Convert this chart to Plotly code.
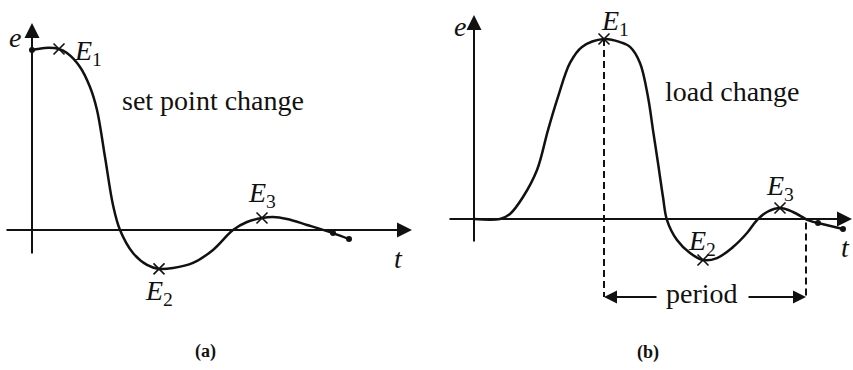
import plotly.graph_objects as go

# ---- panel (a): response to a set point change (t, e) ----
a_t = [0.0, 1.3, 2.7, 3.5, 4.8, 5.8, 6.5, 7.3, 8.1, 8.8, 10.1, 11.5, 12.7,
       14.1, 16.1, 18.1, 20.1, 21.5, 23.0, 24.1, 25.5, 27.5, 30.1, 31.7]
a_e = [0.994, 1.006, 1.0, 0.978, 0.901, 0.790, 0.663, 0.403, 0.138, 0.0,
       -0.127, -0.193, -0.215, -0.210, -0.182, -0.110, 0.0, 0.044, 0.066,
       0.072, 0.061, 0.028, -0.017, -0.050]
a_ext_t = [2.7, 12.7, 23.0]          # E1, E2, E3
a_ext_e = [1.0, -0.215, 0.066]
a_dot_t = [0.0, 30.1, 31.7]
a_dot_e = [0.994, -0.017, -0.050]

# ---- panel (b): response to a load change (t, e) ----
b_t = [0.0, 2.6, 3.6, 4.9, 6.3, 7.4, 8.4, 9.6, 10.8, 13.0, 14.6, 15.6, 16.6,
       17.4, 17.9, 18.4, 18.9, 19.3, 20.3, 21.6, 22.9, 24.3, 25.9, 27.3,
       28.3, 29.3, 30.6, 31.9, 33.4, 34.4]
b_e = [0.0, 0.0, 0.028, 0.122, 0.272, 0.494, 0.678, 0.867, 0.956, 1.0,
       0.983, 0.956, 0.867, 0.678, 0.494, 0.311, 0.122, -0.006, -0.117,
       -0.189, -0.228, -0.217, -0.156, -0.078, -0.006, 0.039, 0.061, 0.039,
       -0.006, -0.022]
b_tail_t = [34.4, 36.9]
b_tail_e = [-0.022, -0.056]
b_ext_t = [13.0, 22.9, 30.6]         # E1, E2, E3
b_ext_e = [1.0, -0.228, 0.061]
period_start, period_end = 13.0, 33.2
period_level = -0.433

ext_names = ["1", "2", "3"]

INK = "#111111"
FONT = "Liberation Serif, DejaVu Serif, serif"
FS = 28

fig = go.Figure()


def curve(t, e, xa, ya):
    fig.add_trace(go.Scatter(x=t, y=e, mode="lines", xaxis=xa, yaxis=ya,
                             line=dict(color=INK, width=2.5, shape="spline",
                                       smoothing=1.0),
                             hoverinfo="skip", showlegend=False))


def dots(t, e, xa, ya):
    fig.add_trace(go.Scatter(x=t, y=e, mode="markers", xaxis=xa, yaxis=ya,
                             marker=dict(color=INK, size=6),
                             hoverinfo="skip", showlegend=False))


def crosses(t, e, xa, ya):
    fig.add_trace(go.Scatter(x=t, y=e, mode="markers", xaxis=xa, yaxis=ya,
                             marker=dict(symbol="x-thin", size=11,
                                         line=dict(width=1.6, color=INK)),
                             hoverinfo="skip", showlegend=False))


curve(a_t, a_e, "x", "y")
dots(a_dot_t, a_dot_e, "x", "y")
crosses(a_ext_t, a_ext_e, "x", "y")

curve(b_t, b_e, "x2", "y2")
fig.add_trace(go.Scatter(x=b_tail_t, y=b_tail_e, mode="lines+markers",
                         xaxis="x2", yaxis="y2",
                         line=dict(color=INK, width=2.5),
                         marker=dict(color=INK, size=6),
                         hoverinfo="skip", showlegend=False))
crosses(b_ext_t, b_ext_e, "x2", "y2")

# dashed markers bounding one period
for tt, top in [(period_start, b_ext_e[0]), (period_end, -0.02)]:
    fig.add_trace(go.Scatter(x=[tt, tt], y=[top, period_level], mode="lines",
                             xaxis="x2", yaxis="y2",
                             line=dict(color=INK, width=2, dash="7px,4px"),
                             hoverinfo="skip", showlegend=False))

labels = []
arrows = []


def arrow(xref, yref, x0, y0, x1, y1, width=2, size=1.5):
    arrows.append(dict(x=x1, y=y1, ax=x0, ay=y0, xref=xref, yref=yref,
                       axref=xref, ayref=yref, text="", showarrow=True,
                       arrowhead=2, arrowsize=size, arrowwidth=width,
                       arrowcolor=INK))


def label(xref, yref, x, y, text, size=FS, xanchor="center", xs=0, ys=0):
    labels.append(dict(x=x, y=y, xref=xref, yref=yref, text=text,
                       showarrow=False, xanchor=xanchor, yanchor="middle",
                       xshift=xs, yshift=ys,
                       font=dict(family=FONT, size=size, color=INK)))


# coordinate axes with arrowheads
arrow("x", "y", -2.7, 0, 38.0, 0)
arrow("x", "y", 0, -0.138, 0, 1.144)
arrow("x2", "y2", -2.6, 0, 37.8, 0)
arrow("x2", "y2", 0, -0.133, 0, 1.133)

# period arrows
arrow("x2", "y2", 18.4, period_level, period_start, period_level, size=1.3)
arrow("x2", "y2", 27.3, period_level, period_end, period_level, size=1.3)
label("x2", "y2", 22.8, period_level, "period", ys=3)

# axis names
label("x", "y", -1.7, 1.066, "<i>e</i>")
label("x", "y", 36.6, -0.155, "<i>t</i>")
label("x2", "y2", -1.4, 1.067, "<i>e</i>")
label("x2", "y2", 37.1, -0.161, "<i>t</i>")

# extremum labels
a_off = [(29, -3), (0, -24), (0, 24)]
b_off = [(11, 17), (-1, 18), (0, 21)]
for n, tt, ee, (dx, dy) in zip(ext_names, a_ext_t, a_ext_e, a_off):
    label("x", "y", tt, ee, f"<i>E</i><sub>{n}</sub>", xs=dx, ys=dy)
for n, tt, ee, (dx, dy) in zip(ext_names, b_ext_t, b_ext_e, b_off):
    label("x2", "y2", tt, ee, f"<i>E</i><sub>{n}</sub>", xs=dx, ys=dy)

label("x", "y", 8.8, 0.713, "set point change", xanchor="left")
label("x2", "y2", 18.9, 0.706, "load change", xanchor="left")

label("x", "y", 17.3, -0.674, "<b>(a)</b>", size=18)
label("x2", "y2", 17.4, -0.739, "<b>(b)</b>", size=18)

ax_common = dict(visible=False, fixedrange=True)
fig.update_layout(
    width=853, height=370,
    margin=dict(l=0, r=0, t=0, b=0),
    paper_bgcolor="white", plot_bgcolor="white",
    showlegend=False,
    font=dict(family=FONT, color=INK),
    xaxis=dict(domain=[0, 430 / 853], range=[-3.2, 39.8], **ax_common),
    yaxis=dict(domain=[0, 1], range=[-0.7735, 1.2707], **ax_common),
    xaxis2=dict(domain=[430 / 853, 1], range=[-4.4, 37.9], anchor="y2",
                **ax_common),
    yaxis2=dict(domain=[0, 1], range=[-0.8389, 1.2167], anchor="x2",
                **ax_common),
    annotations=labels + arrows,
)

fig.write_html("out.html")
